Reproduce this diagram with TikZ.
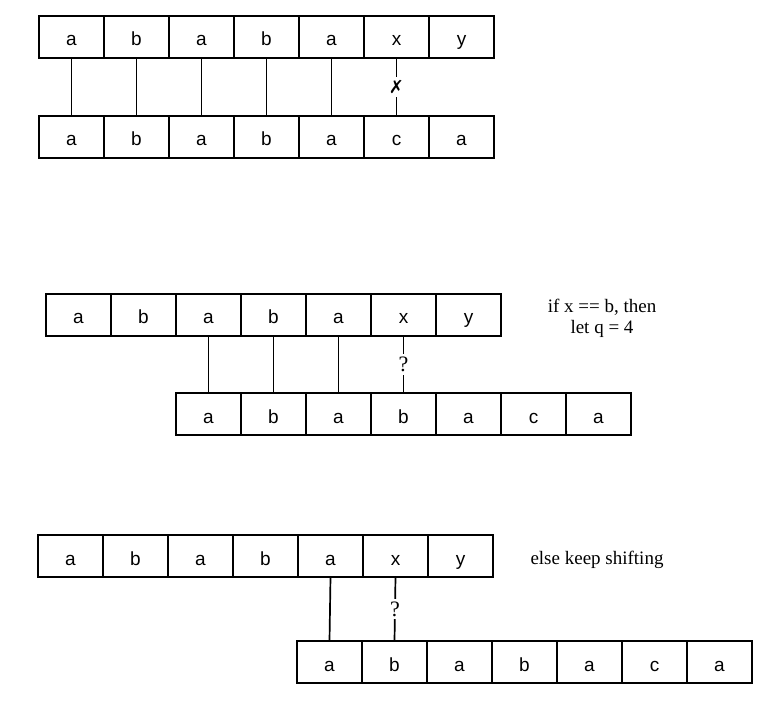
\documentclass[tikz,border=0pt]{standalone}
\usepackage{fontspec}
\setmainfont{Liberation Serif}
\setsansfont{Liberation Sans}
\newfontfamily\symfont{DejaVu Sans}
\begin{document}
\begin{tikzpicture}[x=1pt,y=-1pt,
  cell/.style={draw, line width=1.8pt, minimum width=65pt, minimum height=42pt,
    inner sep=0pt, outer sep=0pt, anchor=north west,
    text height=18pt, text depth=0pt,
    font=\sffamily\fontsize{19}{22}\selectfont},
  conn/.style={line width=1.7pt},
  lab/.style={fill=white, inner sep=3pt, font=\fontsize{22}{24}\selectfont},
  note/.style={align=center, font=\fontsize{19}{21}\selectfont}]
\useasboundingbox (0,0) rectangle (771,708);
% row 1
\foreach \t [count=\i from 0] in {a,b,a,b,a,x,y}
  \node[cell] (r1t\i) at (39+65*\i,16) {\t};
\foreach \t [count=\i from 0] in {a,b,a,b,a,c,a}
  \node[cell] (r1b\i) at (39+65*\i,116) {\t};
\foreach \i in {0,...,4}
  \draw[conn] (r1t\i.south) -- (r1b\i.north);
\draw[conn] (r1t5.south) -- node[lab]{\symfont\fontsize{18}{20}\selectfont ✗} (r1b5.north);
% row 2
\foreach \t [count=\i from 0] in {a,b,a,b,a,x,y}
  \node[cell] (r2t\i) at (46+65*\i,294) {\t};
\foreach \t [count=\i from 0] in {a,b,a,b,a,c,a}
  \node[cell] (r2b\i) at (176+65*\i,393) {\t};
\draw[conn] (r2t2.south) -- (r2b0.north);
\draw[conn] (r2t3.south) -- (r2b1.north);
\draw[conn] (r2t4.south) -- (r2b2.north);
\draw[conn] (r2t5.south) -- node[lab]{?} (r2b3.north);
\node[note] (n1) at (602,318) {if x == b, then\\let q = 4};
% row 3
\foreach \t [count=\i from 0] in {a,b,a,b,a,x,y}
  \node[cell] (r3t\i) at (38+65*\i,535) {\t};
\foreach \t [count=\i from 0] in {a,b,a,b,a,c,a}
  \node[cell] (r3b\i) at (297+65*\i,641) {\t};
\draw[conn] (r3t4.south) -- (r3b0.north);
\draw[conn] (r3t5.south) -- node[lab]{?} (r3b1.north);
\node[note] (n2) at (597,560) {else keep shifting};
\end{tikzpicture}
\end{document}
